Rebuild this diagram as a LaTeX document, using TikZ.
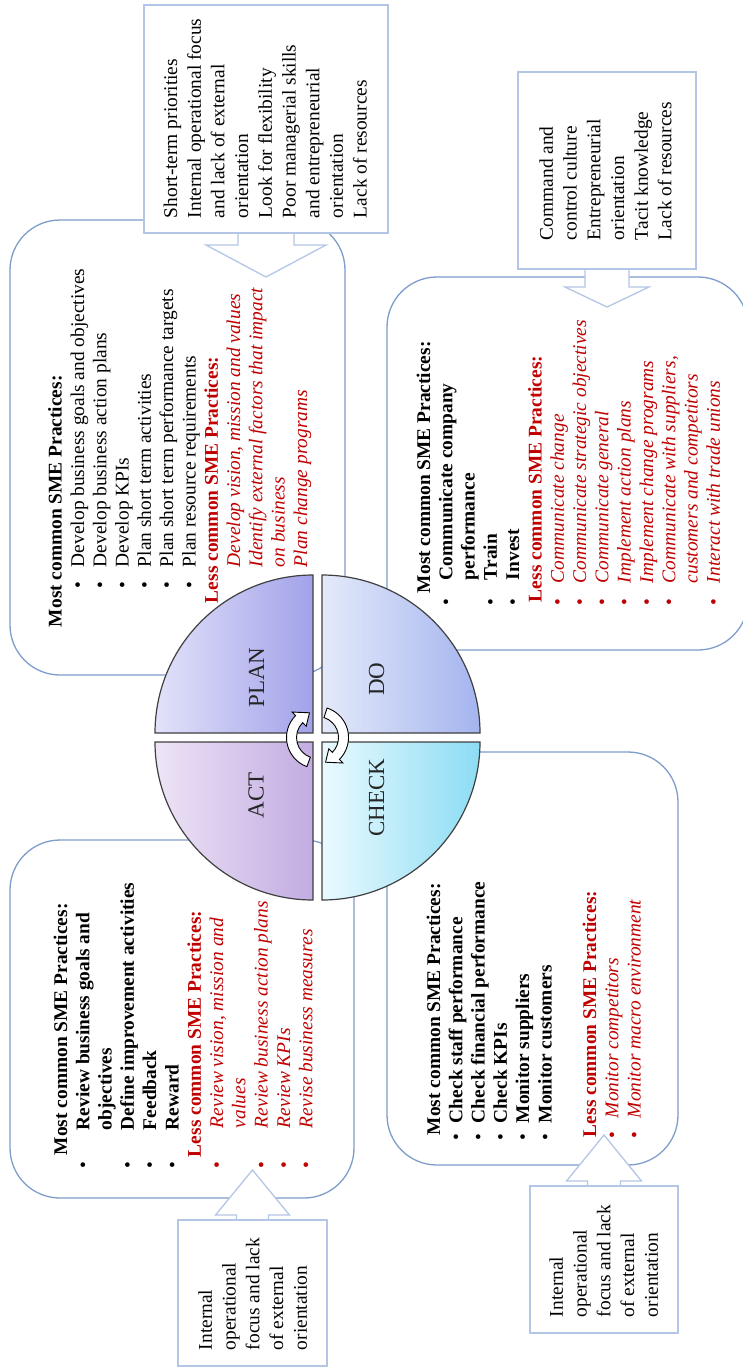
\documentclass[tikz,border=0pt]{standalone}
\usepackage{fontspec}
\setmainfont{Liberation Serif}
\usetikzlibrary{calc}
\definecolor{rboxc}{HTML}{7F9DCB}
\definecolor{wboxc}{HTML}{B4C6E6}
\definecolor{sred}{HTML}{C00000}
\definecolor{planL}{HTML}{E2E2FA}
\definecolor{planR}{HTML}{A2A2EA}
\definecolor{doL}{HTML}{E4EAFA}
\definecolor{doR}{HTML}{A4B4EE}
\definecolor{actL}{HTML}{EEE4F6}
\definecolor{actR}{HTML}{C2ACE2}
\definecolor{chkL}{HTML}{EAFAFE}
\definecolor{chkR}{HTML}{8CDCF4}
\newcommand{\mybul}[2]{\rlap{\hspace*{#1pt}\makebox[0pt]{\textbullet}}\hspace*{#2pt}}
\newcommand{\lind}[1]{\hspace*{#1pt}}
\tikzset{
 rbox/.style={draw=rboxc, line width=1.3pt, fill=white, rounded corners=50pt, inner sep=0pt, outer sep=0pt},
 wbox/.style={draw=wboxc, line width=1.3pt, fill=white, inner sep=0pt, outer sep=0pt},
 barrow/.style={draw=wboxc, line width=1.3pt, fill=white, line join=miter},
 wedge/.style={draw=wboxc, line width=1.3pt},
 txt/.style={rotate=90, anchor=north west, inner sep=0pt, outer sep=0pt, align=left, font=\fontsize{19.4}{22.3}\selectfont},
 wtxt/.style={rotate=90, anchor=north west, inner sep=0pt, outer sep=0pt, align=left, font=\fontsize{19.4}{23.7}\selectfont},
 qlab/.style={rotate=90, inner sep=0pt, font=\fontsize{23}{26}\selectfont, text=black!85},
 quad/.style={draw=black!75, line width=1.2pt},
 cyc/.style={draw=black, fill=white, line width=0.9pt, line join=miter},
}
\begin{document}
\begin{tikzpicture}[x=1pt,y=1pt]
\useasboundingbox (0,0) rectangle (743,-1368);
\clip (0,0) rectangle (743,-1368);
\fill[white] (0,0) rectangle (743,-1368);

% rounded practice boxes
\node[rbox, minimum width=335pt, minimum height=455pt] (bA) at (177.5,-447.5) {};
\node[rbox, minimum width=361pt, minimum height=373pt] (bB) at (567.5,-463.5) {};
\node[rbox, minimum width=344pt, minimum height=358pt] (bC) at (182,-1019) {};
\node[rbox, minimum width=291pt, minimum height=413pt] (bD) at (532.5,-958.5) {};

% barrier boxes
\node[wbox, minimum width=244pt, minimum height=228pt] (wA) at (266,-119) {};
\node[wbox, minimum width=178pt, minimum height=197pt] (wB) at (607,-170.5) {};
\node[wbox, minimum width=149pt, minimum height=146pt] (wC) at (252.5,-1293) {};
\node[wbox, minimum width=148pt, minimum height=147pt] (wD) at (604,-1259.5) {};

% block arrows
\filldraw[barrow] (wA.south) ++(-28,0) -- ++(0,-12) -- ++(-32,0) -- ++(60,-32) -- ++(60,32) -- ++(-32,0) -- ++(0,12);
\filldraw[barrow] (wB.south) ++(-22,0) -- ++(0,-18) -- ++(-20,0) -- ++(42,-20) -- ++(42,20) -- ++(-20,0) -- ++(0,18);
\filldraw[barrow] (wC.north) ++(-16,0) -- ++(0,5) -- ++(-21,0) -- ++(37,45) -- ++(37,-45) -- ++(-21,0) -- ++(0,-5);
\filldraw[barrow] (wD.north) ++(-16.5,0) -- ++(0,5) -- ++(-21,0) -- ++(37.5,46) -- ++(37.5,-46) -- ++(-21,0) -- ++(0,-5);
\draw[wedge] (wA.south west) -- (wA.south east);
\draw[wedge] (wB.south west) -- (wB.south east);
\draw[wedge] (wC.north west) -- (wC.north east);
\draw[wedge] (wD.north west) -- (wD.north east);

% PDCA circle
\coordinate (O) at (317.5,-737.5);
\draw[quad, left color=planL, right color=planR] (313,-733) -- ++(-158,0) arc[start angle=180, end angle=90, radius=158] -- cycle;
\draw[quad, left color=doL, right color=doR] (322,-733) -- ++(0,158) arc[start angle=90, end angle=0, radius=158] -- cycle;
\draw[quad, left color=actL, right color=actR] (313,-742) -- ++(-158,0) arc[start angle=180, end angle=270, radius=158] -- cycle;
\draw[quad, left color=chkL, right color=chkR] (322,-742) -- ++(158,0) arc[start angle=0, end angle=-90, radius=158] -- cycle;
\node[qlab] (lplan) at (256.5,-677.5) {PLAN};
\node[qlab] (ldo) at (376.5,-679) {DO};
\node[qlab] (lact) at (256,-795) {ACT};
\node[qlab] (lchk) at (376.5,-797.5) {CHECK};

% cycle arrows
\filldraw[cyc] ($(O)+(250:31)$) arc[start angle=250, end angle=135, radius=31] -- ($(O)+(135:36)$) -- ($(O)+(108:26)$) -- ($(O)+(135:16)$) -- ($(O)+(135:21)$) arc[start angle=135, end angle=250, radius=21] -- cycle;
\filldraw[cyc] ($(O)+(72:31)$) arc[start angle=72, end angle=-45, radius=31] -- ($(O)+(-45:36)$) -- ($(O)+(-72:26)$) -- ($(O)+(-45:16)$) -- ($(O)+(-45:21)$) arc[start angle=-45, end angle=72, radius=21] -- cycle;

% PLAN practices
\node[txt] (tA) at (46.1,-627) {\strut\textbf{Most common SME Practices:}\\
\mybul{42}{60}Develop business goals and objectives\\
\mybul{42}{60}Develop business action plans\\
\mybul{42}{60}Develop KPIs\\
\mybul{42}{60}Plan short term activities\\
\mybul{42}{60}Plan short term performance targets\\
\mybul{42}{60}Plan resource requirements\\
\lind{24}\textcolor{sred}{\textbf{Less common SME Practices:}}\\
\lind{60}\textcolor{sred}{\textit{Develop vision, mission and values}}\\
\lind{60}\textcolor{sred}{\textit{Identify external factors that impact}}\\
\lind{60}\textcolor{sred}{\textit{on business}}\\
\lind{60}\textcolor{sred}{\textit{Plan change programs}}};

% DO practices
\node[txt] (tB) at (414.4,-606) {\strut\lind{13}\textbf{Most common SME Practices:}\\
\mybul{4}{26}\textbf{Communicate company}\\
\lind{26}\textbf{performance}\\
\mybul{4}{26}\textbf{Train}\\
\mybul{4}{26}\textbf{Invest}\\
\lind{4}\textcolor{sred}{\textbf{Less common SME Practices:}}\\
\textcolor{sred}{\mybul{4}{23}\textit{Communicate change}}\\
\textcolor{sred}{\mybul{4}{23}\textit{Communicate strategic objectives}}\\
\textcolor{sred}{\mybul{4}{23}\textit{Communicate general}}\\
\textcolor{sred}{\mybul{4}{23}\textit{Implement action plans}}\\
\textcolor{sred}{\mybul{4}{23}\textit{Implement change programs}}\\
\textcolor{sred}{\mybul{4}{23}\textit{Communicate with suppliers,}}\\
\textcolor{sred}{\lind{23}\textit{customers and competitors}}\\
\textcolor{sred}{\mybul{4}{23}\textit{Interact with trade unions}}};

% ACT practices
\node[txt] (tC) at (51.4,-1169) {\strut\lind{14}\textbf{Most common SME Practices:}\\
\mybul{4}{39}\textbf{Review business goals and}\\
\lind{39}\textbf{objectives}\\
\mybul{4}{39}\textbf{Define improvement activities}\\
\mybul{4}{39}\textbf{Feedback}\\
\mybul{4}{39}\textbf{Reward}\\
\lind{12}\textcolor{sred}{\textbf{Less common SME Practices:}}\\
\textcolor{sred}{\mybul{4}{41}\textit{Review vision, mission and}}\\
\textcolor{sred}{\lind{41}\textit{values}}\\
\textcolor{sred}{\mybul{4}{41}\textit{Review business action plans}}\\
\textcolor{sred}{\mybul{4}{41}\textit{Review KPIs}}\\
\textcolor{sred}{\mybul{4}{41}\textit{Revise business measures}}};

% CHECK practices
\node[txt] (tD) at (424.4,-1140) {\strut\lind{5}\textbf{Most common SME Practices:}\\
\mybul{3}{17}\textbf{Check staff performance}\\
\mybul{3}{17}\textbf{Check financial performance}\\
\mybul{3}{17}\textbf{Check KPIs}\\
\mybul{3}{17}\textbf{Monitor suppliers}\\
\mybul{3}{17}\textbf{Monitor customers}\\
\strut\\
\lind{3}\textcolor{sred}{\textbf{Less common SME Practices:}}\\
\textcolor{sred}{\mybul{5}{22}\textit{Monitor competitors}}\\
\textcolor{sred}{\mybul{5}{22}\textit{Monitor macro environment}}};

% barrier texts
\node[wtxt] (xA) at (160.5,-218) {\strut Short-term priorities\\
Internal operational focus\\
and lack of external\\
orientation\\
Look for flexibility\\
Poor managerial skills\\
and entrepreneurial\\
orientation\\
Lack of resources};
\node[wtxt] (xB) at (536.4,-240) {\strut Command and\\
control culture\\
Entrepreneurial\\
orientation\\
Tacit knowledge\\
Lack of resources};
\node[wtxt] (xC) at (195.4,-1350) {\strut Internal\\
operational\\
focus and lack\\
of external\\
orientation};
\node[wtxt] (xD) at (546.4,-1317) {\strut Internal\\
operational\\
focus and lack\\
of external\\
orientation};
\end{tikzpicture}
\end{document}
